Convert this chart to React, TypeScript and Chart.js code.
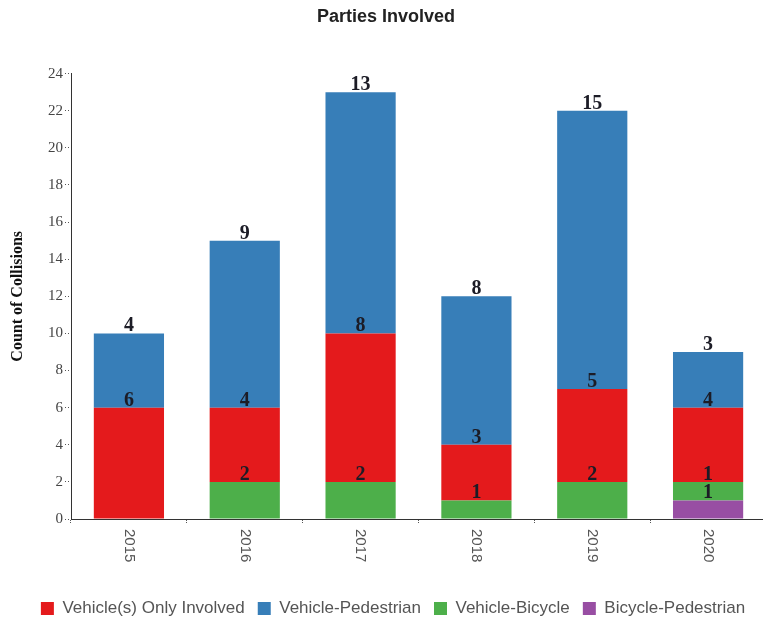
import React, { useEffect, useRef } from "react";
import { Chart, registerables } from "chart.js";

Chart.register(...registerables);

const years = ["2015", "2016", "2017", "2018", "2019", "2020"];
const vehicleOnly = [6, 4, 8, 3, 5, 4];
const vehiclePedestrian = [4, 9, 13, 8, 15, 3];
const vehicleBicycle = [0, 2, 2, 1, 2, 1];
const bicyclePedestrian = [0, 0, 0, 0, 0, 1];
const yTicksMax = 24;
const yTickStep = 2;

const seriesNames = ["Bicycle-Pedestrian", "Vehicle-Bicycle", "Vehicle(s) Only Involved", "Vehicle-Pedestrian"];
const seriesColors = ["#984ea3", "#4daf4a", "#e41a1c", "#377eb8"];
const legendRank = [3, 2, 0, 1];

const CANVAS_W = 766;
const CANVAS_H = 623;

const valueLabels = {
  id: "valueLabels",
  afterDatasetsDraw(chart: any) {
    const ctx = chart.ctx;
    ctx.save();
    ctx.font = "bold 20px 'Liberation Serif', 'Times New Roman', serif";
    ctx.fillStyle = "#1c1c26";
    ctx.textAlign = "center";
    ctx.textBaseline = "alphabetic";
    chart.data.datasets.forEach((ds: any, di: number) => {
      const meta = chart.getDatasetMeta(di);
      meta.data.forEach((bar: any, i: number) => {
        const v = ds.data[i];
        if (!v) return;
        ctx.fillText(String(v), bar.x, bar.y - 2);
      });
    });
    ctx.restore();
  },
};

const xLabels = {
  id: "xLabels",
  afterDraw(chart: any) {
    const ctx = chart.ctx;
    const xs = chart.scales.x;
    ctx.save();
    ctx.font = "15px 'Liberation Sans', Arial, sans-serif";
    ctx.fillStyle = "#555";
    ctx.textAlign = "left";
    ctx.textBaseline = "middle";
    years.forEach((lab, i) => {
      const x = xs.getPixelForValue(i);
      ctx.save();
      ctx.translate(x, chart.chartArea.bottom + 10);
      ctx.rotate(Math.PI / 2);
      ctx.fillText(lab, 0, 0);
      ctx.restore();
    });
    ctx.restore();
  },
};

const shiftBoxes = {
  id: "shiftBoxes",
  afterLayout(chart: any) {
    if (chart.legend) {
      chart.legend.left += 20;
      chart.legend.top += 4;
      chart.legend.bottom += 4;
    }
    if (chart.titleBlock) {
      chart.titleBlock.left += 6;
      chart.titleBlock.top += 1;
      chart.titleBlock.bottom += 1;
    }
  },
};

export default function App() {
  const ref = useRef<HTMLCanvasElement>(null);
  useEffect(() => {
    if (!ref.current) return;
    const datasets = [bicyclePedestrian, vehicleBicycle, vehicleOnly, vehiclePedestrian].map((d, i) => ({
      label: seriesNames[i],
      data: d,
      backgroundColor: seriesColors[i],
      borderWidth: 0,
      barPercentage: 0.606,
      categoryPercentage: 1,
    }));
    const chart = new Chart(ref.current, {
      type: "bar",
      data: { labels: years, datasets },
      options: {
        responsive: false,
        animation: false,
        layout: { padding: 0 },
        plugins: {
          title: {
            display: true,
            text: "Parties Involved",
            color: "#222",
            font: { family: "'Liberation Sans', Arial, sans-serif", size: 18, weight: "bold" },
            padding: { top: 5, bottom: 47 },
          },
          legend: {
            position: "bottom",
            labels: {
              boxWidth: 13,
              boxHeight: 13,
              padding: 13,
              color: "#555",
              font: { family: "'Liberation Sans', Arial, sans-serif", size: 17 },
              sort: (a: any, b: any) => legendRank[a.datasetIndex] - legendRank[b.datasetIndex],
            },
          },
          tooltip: { enabled: false },
        },
        scales: {
          x: {
            stacked: true,
            grid: {
              display: true,
              drawOnChartArea: false,
              drawTicks: true,
              tickLength: 4,
              color: "#555",
              offset: true,
              tickBorderDash: [1, 1],
            },
            border: { display: true, color: "#333", width: 1 },
            ticks: { color: "rgba(0,0,0,0)", maxRotation: 0, minRotation: 0 },
            afterFit: (s: any) => {
              s.height = 64;
            },
          },
          y: {
            stacked: true,
            min: 0,
            max: yTicksMax,
            grid: {
              display: true,
              drawOnChartArea: false,
              drawTicks: true,
              tickLength: 6,
              color: "#555",
              tickBorderDash: [1, 2],
            },
            border: { display: true, color: "#333", width: 1 },
            ticks: {
              stepSize: yTickStep,
              color: "#444",
              padding: 2,
              font: { family: "'Liberation Serif', 'Times New Roman', serif", size: 15 },
            },
            title: {
              display: true,
              text: "Count of Collisions",
              color: "#111",
              font: { family: "'Liberation Serif', 'Times New Roman', serif", size: 16, weight: "bold" },
              padding: { top: 8, bottom: 0 },
            },
            afterFit: (s: any) => {
              s.width = 71;
            },
          },
        },
      },
      plugins: [valueLabels, xLabels, shiftBoxes],
    });
    return () => chart.destroy();
  }, []);

  return (
    <div style={{ position: "fixed", left: 0, top: 0, width: 763, height: 623, overflow: "hidden", background: "#fff" }}>
      <canvas ref={ref} width={CANVAS_W} height={CANVAS_H} style={{ width: CANVAS_W, height: CANVAS_H, display: "block" }} />
    </div>
  );
}
